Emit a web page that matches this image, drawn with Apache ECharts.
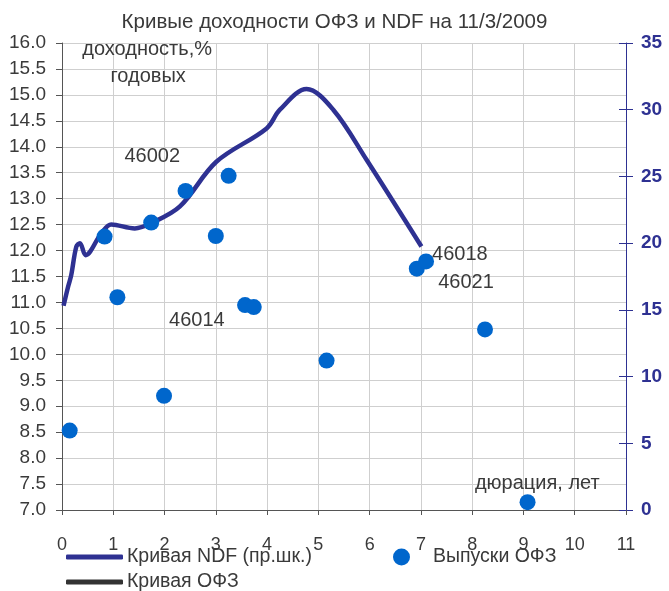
<!DOCTYPE html>
<html><head><meta charset="utf-8">
<script src="https://cdn.jsdelivr.net/npm/echarts@6/dist/echarts.min.js"></script>
<style>html,body{margin:0;padding:0;background:#fff}#c{width:669px;height:591px}</style>
</head><body><div id="c"></div>
<script>
const titleText = 'Кривые доходности ОФЗ и NDF на 11/3/2009';
// OFZ issues: [duration, yield]
const ofzDuration = [0.15, 0.83, 1.08, 1.74, 2.41, 1.99, 3.00, 3.25, 3.57, 3.74, 5.16, 6.92, 7.10, 8.25, 9.08];
const ofzYield    = [8.53, 12.27, 11.10, 12.54, 13.15, 9.20, 12.28, 13.44, 10.95, 10.91, 9.88, 11.65, 11.79, 10.48, 7.15];
// NDF curve (right axis)
const ndfTerm  = [0.03, 0.12, 0.18, 0.28, 0.35, 0.46, 0.77, 0.96, 1.42, 1.74, 2.30, 3.01, 3.99, 4.25, 4.77, 5.29, 5.94, 7.01];
const ndfRate  = [15.3, 16.75, 17.6, 19.75, 20.0, 19.1, 20.75, 21.4, 21.1, 21.5, 22.75, 26.1, 28.6, 30.0, 31.55, 30.0, 26.25, 19.75];
// OFZ curve (no data shown)
const ofzCurve = [];
// annotations [x, y(left axis), text]
const annX = [1.66, 1.68, 1.76, 2.63, 7.76, 7.88, 9.27];
const annY = [15.87, 15.35, 13.81, 10.66, 11.92, 11.38, 7.52];
const annText = ['доходность,%', 'годовых', '46002', '46014', '46018', '46021', 'дюрация, лет'];

const FONT = 'Liberation Sans';
const TXT = '#3a3a3a';
const NAVY = '#2e3192';
const BLUE = '#0066cc';

const chart = echarts.init(document.getElementById('c'));
chart.setOption({
  animation: false,
  textStyle: {fontFamily: FONT},
  title: {text: titleText, left: 'center', top: 7,
    textStyle: {fontFamily: FONT, fontSize: 20.5, fontWeight: 'normal', color: TXT}},
  grid: {left: 62, right: 43, top: 43, bottom: 81},
  legend: [
    {left: 66, top: 547, padding: 0, itemWidth: 57, itemHeight: 5,
     textStyle: {fontFamily: FONT, fontSize: 19.5, color: TXT, padding: [0,0,0,-1]},
     data: [{name: 'Кривая NDF (пр.шк.)', icon: 'roundRect'}]},
    {left: 66, top: 572, padding: 0, itemWidth: 57, itemHeight: 5,
     textStyle: {fontFamily: FONT, fontSize: 19.5, color: TXT, padding: [0,0,0,-1]},
     data: [{name: 'Кривая ОФЗ', icon: 'roundRect'}]},
    {left: 393, top: 547, padding: 0, itemWidth: 17, itemHeight: 17,
     textStyle: {fontFamily: FONT, fontSize: 19.5, color: TXT, padding: [0,0,0,18]},
     data: [{name: 'Выпуски ОФЗ', icon: 'circle'}]}
  ],
  xAxis: {type: 'value', min: 0, max: 11, interval: 1,
    axisLine: {show: true, onZero: false, lineStyle: {color: '#555', width: 1}},
    axisTick: {show: true, length: 5, lineStyle: {color: '#555'}},
    axisLabel: {fontFamily: FONT, fontSize: 18, color: TXT, margin: 26},
    splitLine: {show: true, lineStyle: {color: '#cfcfcf', width: 1}}},
  yAxis: [
    {type: 'value', min: 7, max: 16, interval: 0.5, position: 'left',
     axisLine: {show: true, lineStyle: {color: '#555'}},
     axisTick: {show: true, length: 6, lineStyle: {color: '#555'}},
     axisLabel: {fontFamily: FONT, fontSize: 19, color: TXT, margin: 16, formatter: v => v.toFixed(1)},
     splitLine: {show: true, lineStyle: {color: '#cfcfcf', width: 1}}},
    {type: 'value', min: 0, max: 35, interval: 5, position: 'right',
     axisLine: {show: true, lineStyle: {color: NAVY}},
     axisTick: {show: true, length: 7, lineStyle: {color: NAVY}},
     axisLabel: {fontFamily: FONT, fontSize: 19, fontWeight: 'bold', color: NAVY, margin: 15},
     splitLine: {show: false}},
    {type: 'value', min: 0, max: 35, interval: 5, position: 'right',
     axisLine: {show: false},
     axisTick: {show: true, inside: true, length: 7, lineStyle: {color: NAVY}},
     axisLabel: {show: false}, splitLine: {show: false}}
  ],
  series: [
    {name: 'Кривая NDF (пр.шк.)', type: 'line', yAxisIndex: 1, smooth: 0.35, showSymbol: false,
     symbol: 'none', color: NAVY, lineStyle: {color: NAVY, width: 4.5},
     data: ndfTerm.map((x, i) => [x, ndfRate[i]]), z: 3},
    {name: 'Кривая ОФЗ', type: 'line', yAxisIndex: 0, symbol: 'none', color: '#333',
     lineStyle: {color: '#333', width: 4.5}, data: ofzCurve},
    {name: 'Выпуски ОФЗ', type: 'scatter', yAxisIndex: 0, symbolSize: 16, color: BLUE,
     itemStyle: {color: BLUE, opacity: 1}, z: 4,
     data: ofzDuration.map((x, i) => [x, ofzYield[i]])},
    {name: 'ann', type: 'scatter', yAxisIndex: 0, symbolSize: 1, silent: true, z: 5,
     itemStyle: {color: 'rgba(0,0,0,0)', opacity: 1},
     label: {show: true, position: 'inside', fontFamily: FONT, fontSize: 20, color: TXT,
       opacity: 1, textBorderWidth: 0, formatter: p => p.data[2]},
     data: annX.map((x, i) => [x, annY[i], annText[i]])}
  ]
});
</script></body></html>
